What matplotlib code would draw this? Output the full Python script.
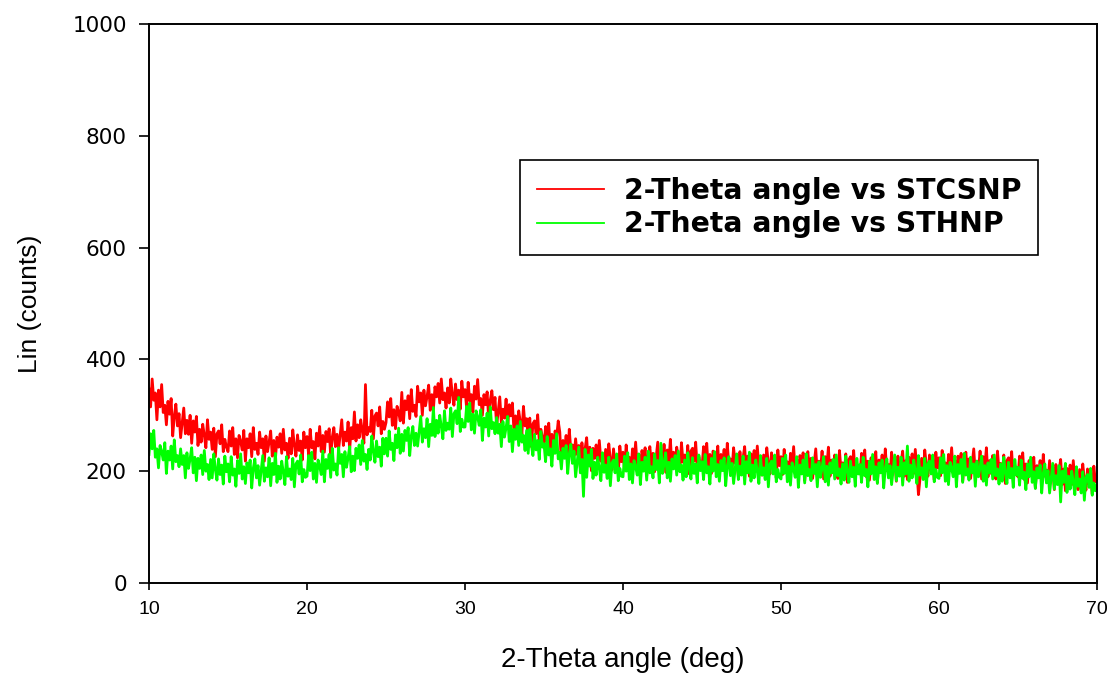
import numpy as np
import matplotlib.pyplot as plt

# 2-theta grid, 0.1 deg steps from 10 to 70 (one row = 1 deg)
two_theta = np.linspace(10, 70, 601)

stcsnp = [
    347, 315, 365, 327, 340, 292, 345, 315, 355, 305,
    318, 283, 325, 302, 330, 263, 298, 320, 281, 303,
    260, 287, 313, 267, 291, 266, 300, 250, 290, 270,
    298, 246, 275, 252, 284, 264, 242, 292, 257, 270,
    239, 277, 226, 267, 272, 249, 283, 235, 257, 243,
    235, 272, 245, 278, 230, 258, 224, 264, 253, 238,
    273, 218, 258, 242, 267, 226, 278, 239, 250, 230,
    270, 242, 258, 218, 263, 235, 252, 272, 227, 255,
    221, 261, 243, 267, 232, 275, 238, 250, 223, 259,
    231, 274, 246, 227, 265, 237, 254, 220, 270, 242,
    262, 230, 275, 242, 253, 222, 268, 245, 280, 235,
    264, 234, 271, 253, 276, 226, 261, 278, 244, 266,
    239, 266, 292, 246, 270, 254, 288, 238, 278, 258,
    306, 254, 283, 260, 292, 272, 250, 355, 265, 278,
    271, 309, 258, 299, 304, 281, 315, 267, 289, 275,
    287, 324, 297, 330, 282, 310, 276, 316, 305, 290,
    341, 286, 326, 310, 335, 294, 346, 307, 318, 298,
    352, 324, 340, 300, 345, 317, 334, 354, 309, 337,
    311, 351, 333, 357, 322, 365, 328, 340, 313, 349,
    322, 365, 337, 318, 356, 328, 345, 311, 361, 333,
    346, 314, 359, 326, 337, 306, 352, 329, 364, 319,
    330, 300, 337, 319, 342, 292, 327, 344, 310, 332,
    280, 307, 333, 287, 311, 295, 329, 279, 319, 299,
    322, 270, 299, 276, 308, 288, 266, 316, 281, 294,
    257, 295, 244, 285, 290, 267, 301, 253, 275, 261,
    243, 280, 253, 286, 238, 266, 232, 272, 261, 290,
    270, 215, 255, 239, 264, 223, 275, 236, 247, 227,
    258, 230, 246, 206, 251, 223, 240, 260, 215, 243,
    201, 241, 223, 247, 212, 255, 218, 230, 203, 239,
    206, 249, 221, 202, 240, 212, 229, 195, 245, 217,
    234, 202, 247, 214, 225, 194, 240, 217, 252, 207,
    230, 200, 237, 219, 242, 192, 227, 244, 210, 232,
    199, 226, 252, 206, 230, 214, 248, 198, 238, 218,
    257, 205, 234, 211, 243, 223, 201, 251, 216, 229,
    208, 246, 195, 236, 241, 218, 252, 204, 226, 212,
    207, 244, 217, 250, 202, 230, 196, 236, 225, 210,
    245, 190, 230, 214, 239, 198, 250, 211, 222, 202,
    242, 214, 230, 190, 235, 207, 224, 244, 199, 227,
    191, 231, 213, 237, 202, 245, 208, 220, 193, 229,
    199, 242, 214, 195, 233, 205, 222, 188, 238, 210,
    226, 194, 239, 206, 217, 186, 232, 209, 244, 199,
    221, 191, 228, 210, 233, 183, 218, 235, 201, 223,
    187, 214, 240, 194, 218, 202, 236, 186, 226, 206,
    243, 191, 220, 197, 229, 209, 187, 237, 202, 215,
    193, 231, 180, 221, 226, 203, 237, 189, 211, 197,
    195, 232, 205, 238, 190, 218, 184, 224, 213, 198,
    235, 180, 220, 204, 229, 188, 240, 201, 212, 192,
    234, 206, 222, 182, 227, 199, 216, 236, 191, 219,
    185, 225, 207, 231, 196, 239, 202, 158, 187, 223,
    195, 238, 210, 191, 229, 201, 218, 184, 234, 206,
    224, 192, 237, 204, 215, 184, 230, 207, 242, 197,
    220, 190, 227, 209, 232, 182, 217, 234, 200, 222,
    187, 214, 240, 194, 218, 202, 236, 186, 226, 206,
    242, 190, 219, 196, 228, 208, 186, 236, 201, 214,
    191, 229, 178, 219, 224, 201, 235, 187, 209, 195,
    190, 227, 200, 233, 185, 213, 179, 219, 208, 193,
    225, 170, 210, 194, 219, 178, 230, 191, 202, 182,
    219, 191, 207, 167, 212, 184, 201, 221, 176, 204,
    165, 205, 187, 211, 176, 219, 182, 194, 167, 203,
    170, 213, 185, 166, 204, 176, 193, 159, 209, 181,
    183,
]

sthnp = [
    230, 267, 240, 273, 225, 240, 206, 246, 235, 220,
    251, 196, 236, 220, 245, 204, 256, 217, 228, 208,
    240, 212, 228, 188, 233, 205, 222, 242, 197, 225,
    183, 223, 205, 229, 194, 237, 200, 212, 185, 221,
    188, 231, 203, 184, 222, 194, 211, 177, 227, 199,
    213, 181, 226, 193, 204, 173, 219, 196, 231, 186,
    208, 178, 215, 197, 220, 170, 205, 222, 188, 210,
    175, 202, 228, 182, 206, 190, 224, 174, 214, 194,
    232, 180, 209, 186, 218, 198, 176, 226, 191, 204,
    185, 223, 172, 213, 218, 195, 229, 181, 203, 189,
    191, 228, 201, 234, 186, 214, 180, 220, 209, 194,
    236, 181, 221, 205, 230, 189, 241, 202, 213, 193,
    242, 214, 230, 190, 235, 207, 224, 244, 199, 227,
    201, 241, 223, 247, 212, 255, 218, 230, 203, 239,
    220, 263, 235, 216, 254, 226, 243, 209, 259, 231,
    259, 227, 272, 239, 250, 219, 265, 242, 277, 232,
    266, 236, 273, 255, 278, 228, 263, 280, 246, 268,
    245, 272, 298, 252, 276, 260, 294, 244, 284, 264,
    314, 262, 291, 268, 300, 280, 258, 308, 273, 286,
    275, 313, 262, 303, 308, 285, 332, 271, 293, 279,
    279, 316, 289, 322, 274, 302, 268, 308, 297, 282,
    310, 255, 295, 279, 304, 263, 315, 276, 287, 267,
    296, 268, 284, 244, 289, 261, 278, 298, 253, 281,
    235, 275, 257, 281, 246, 289, 252, 264, 237, 273,
    232, 275, 247, 228, 266, 238, 255, 221, 271, 243,
    249, 217, 262, 229, 240, 209, 255, 232, 267, 222,
    234, 204, 241, 223, 246, 196, 231, 248, 214, 236,
    190, 217, 243, 197, 221, 155, 239, 189, 229, 209,
    239, 187, 216, 193, 225, 205, 183, 233, 198, 211,
    187, 225, 174, 215, 220, 197, 231, 183, 205, 191,
    190, 227, 200, 233, 185, 213, 179, 219, 208, 193,
    231, 176, 216, 200, 225, 184, 236, 197, 208, 188,
    231, 203, 219, 179, 250, 196, 213, 233, 188, 216,
    182, 222, 204, 228, 193, 236, 199, 211, 184, 220,
    190, 233, 205, 186, 224, 196, 213, 179, 229, 201,
    217, 185, 230, 197, 208, 177, 223, 200, 235, 190,
    212, 182, 219, 201, 224, 174, 209, 226, 192, 214,
    178, 205, 231, 185, 209, 193, 227, 177, 217, 197,
    234, 182, 211, 188, 220, 200, 178, 228, 193, 206,
    185, 223, 172, 213, 218, 195, 229, 181, 203, 189,
    186, 223, 196, 229, 181, 209, 175, 215, 204, 189,
    226, 171, 211, 195, 220, 179, 231, 192, 203, 183,
    224, 196, 212, 172, 217, 189, 206, 226, 181, 209,
    175, 215, 197, 221, 186, 229, 192, 204, 177, 213,
    184, 227, 199, 180, 218, 190, 207, 173, 223, 195,
    212, 180, 225, 192, 203, 172, 218, 195, 230, 185,
    208, 178, 215, 197, 220, 170, 205, 222, 188, 210,
    176, 203, 229, 183, 207, 191, 225, 175, 215, 195,
    245, 182, 211, 188, 220, 200, 178, 228, 193, 206,
    185, 223, 172, 213, 218, 195, 229, 181, 203, 189,
    187, 224, 197, 230, 182, 210, 176, 216, 205, 190,
    227, 172, 212, 196, 221, 180, 232, 193, 204, 184,
    225, 197, 213, 173, 218, 190, 207, 227, 182, 210,
    175, 215, 197, 221, 186, 229, 192, 204, 177, 213,
    182, 225, 197, 178, 216, 188, 205, 171, 221, 193,
    207, 175, 220, 187, 198, 167, 213, 190, 225, 180,
    199, 169, 206, 188, 211, 161, 196, 213, 179, 201,
    161, 188, 214, 168, 192, 176, 210, 145, 200, 180,
    214, 162, 191, 168, 200, 180, 158, 208, 173, 186,
    161, 199, 148, 189, 194, 171, 205, 157, 179, 165,
    176,
]

x_ticks = [10, 20, 30, 40, 50, 60, 70]
y_ticks = [0, 200, 400, 600, 800, 1000]

fig = plt.figure(figsize=(11.12, 6.75), dpi=100)
ax = fig.add_axes([0.134, 0.1363, 0.8525, 0.8281])

ax.plot(two_theta, stcsnp, color='#ff0000', lw=2, label='2-Theta angle vs STCSNP')
ax.plot(two_theta, sthnp, color='#00ff00', lw=2, label='2-Theta angle vs STHNP')

ax.set_xlim(10, 70)
ax.set_ylim(0, 1000)
ax.set_xticks(x_ticks)
ax.set_yticks(y_ticks)
ax.set_xticklabels([str(t) for t in x_ticks], family='Liberation Sans', fontsize=14)
ax.set_yticklabels([str(t) for t in y_ticks], family='DejaVu Sans', fontsize=15.5)
ax.tick_params(axis='x', direction='out', length=5, width=1.2, pad=8, top=False)
ax.tick_params(axis='y', direction='out', length=7, width=1.2, pad=9, right=False)
for s in ax.spines.values():
    s.set_linewidth(1.4)

ax.set_xlabel('2-Theta angle (deg)', family='Liberation Sans', fontsize=20, labelpad=21)
ax.set_ylabel('Lin (counts)', family='Liberation Sans', fontsize=19, labelpad=22)

leg = ax.legend(loc='upper left', bbox_to_anchor=(0.391, 0.757), borderaxespad=0,
                fancybox=False, framealpha=1, edgecolor='black', handlelength=2.4,
                prop={'family': 'DejaVu Sans', 'weight': 'bold', 'size': 20.3},
                borderpad=0.6, labelspacing=0.2, handletextpad=0.7)
leg.get_frame().set_linewidth(1.2)
for line in leg.get_lines():
    line.set_linewidth(1.3)

fig.savefig('out.png', dpi=100)
